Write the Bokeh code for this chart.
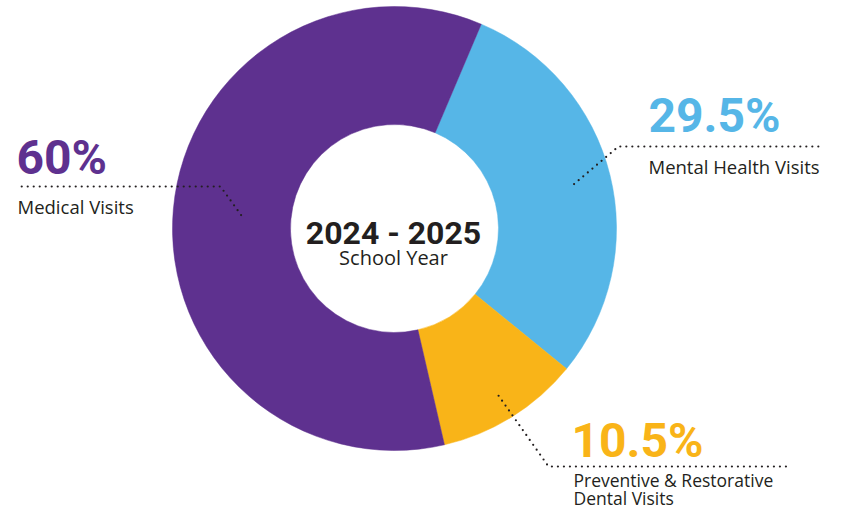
import numpy as np
from bokeh.plotting import figure
from bokeh.models import ColumnDataSource, Range1d
from bokeh.core.properties import value
from bokeh.embed import file_html
from bokeh.resources import INLINE

# ---- data ----
categories = ["Mental Health Visits", "Preventive & Restorative Dental Visits", "Medical Visits"]
shares = [29.5, 10.5, 60.0]
pct_labels = ["29.5%", "10.5%", "60%"]
colors = ["#56b6e7", "#f9b418", "#5e318f"]
center_title = "2024 - 2025"
center_sub = "School Year"

# ---- layout ----
W, H = 826, 512
cx, cy = 394, 284
R_out, R_in = 222, 104
offset_deg = 23.0  # first slice starts this far clockwise from 12 o'clock

DARK = "#231f20"
COND = "Roboto"
BODY = "Open Sans"
BL = 0.34  # baseline compensation (fraction of font size)

p = figure(width=W, height=H, output_backend="svg", toolbar_location=None,
           x_range=Range1d(0, W), y_range=Range1d(0, H), min_border=0)
p.axis.visible = False
p.grid.visible = False
p.outline_line_color = None
p.background_fill_color = "white"
p.border_fill_color = "white"

vals = np.array(shares)
frac = vals / vals.sum()
cum = np.concatenate([[0], np.cumsum(frac)[:-1]])
start = np.pi / 2 - np.radians(offset_deg) - cum * 2 * np.pi
end = start - frac * 2 * np.pi
mid = (start + end) / 2

src = ColumnDataSource(dict(start=start, end=end, color=colors, cat=categories))
p.annular_wedge(x=cx, y=cy, inner_radius=R_in, outer_radius=R_out,
                start_angle="start", end_angle="end", direction="clock",
                fill_color="color", line_color="color", line_width=0.5, source=src)

# ---- leader lines (anchor on slice mid-angle) ----
anchor_r = [185, 197, 154]
elbows = [(618, 366), (548, 46), (220, 326)]
ends = [(822, 366), (787, 46), (20, 326)]
for a, r, (ex, ey), (tx, ty) in zip(mid, anchor_r, elbows, ends):
    ax_, ay_ = cx + r * np.cos(a), cy + r * np.sin(a)
    p.line([ax_, ex, tx], [ay_, ey, ty], line_color=DARK, line_width=2.2,
           line_dash="0 6", line_cap="round")


def txt(x, y, t, size, font, color, style="normal", align="left"):
    p.text(x=[x], y=[y + BL * size], text=[t], text_color=color, text_font=value(font),
           text_font_style=style, text_font_size=f"{size}px", text_baseline="alphabetic",
           text_align=align)


# ---- percentages ----
pct_pos = [(648, 381), (571, 56), (16, 339)]
for (x, y), t, c in zip(pct_pos, pct_labels, colors):
    txt(x, y, t, 48, COND, c, "bold")

# ---- category labels ----
txt(648, 340, categories[0], 18.5, BODY, DARK)
txt(17, 300, categories[2], 18.5, BODY, DARK)
for i, ln in enumerate(["Preventive & Restorative", "Dental Visits"]):
    txt(573, 27 - 18 * i, ln, 17.5, BODY, DARK)

# ---- centre text ----
txt(cx - 1, 269, center_title, 32, COND, DARK, "bold", "center")
txt(cx - 1, 248, center_sub, 20, BODY, DARK, "normal", "center")

open("out.html", "w").write(file_html(p, INLINE))
